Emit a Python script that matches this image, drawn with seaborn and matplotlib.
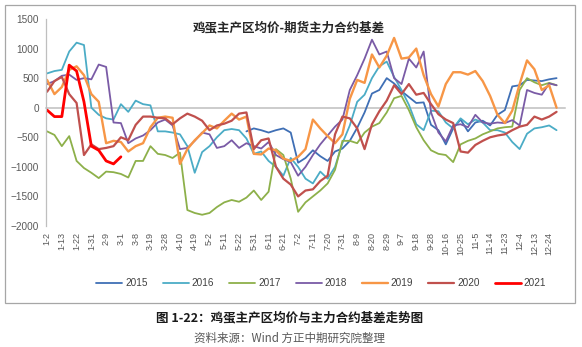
import numpy as np
import pandas as pd
import matplotlib
matplotlib.use("Agg")
import matplotlib.pyplot as plt
import seaborn as sns
from matplotlib.patches import Rectangle

nan = np.nan

# Category axis: trading days, a label every 7 days, values sampled every 3.5 days
tick_labels = ["1-2", "1-13", "1-22", "1-31", "2-9", "3-1", "3-8", "3-19", "3-28",
               "4-10", "4-19", "5-2", "5-11", "5-22", "5-31", "6-11", "6-21", "7-2",
               "7-11", "7-20", "7-31", "8-9", "8-20", "8-29", "9-7", "9-18", "9-28",
               "10-16", "10-25", "11-5", "11-14", "11-23", "12-4", "12-13", "12-24"]

years = ["2015", "2016", "2017", "2018", "2019", "2020", "2021"]

basis_2015 = [nan] * 27 + [
    -400, -350, -380, -420, -380, -350, -420, -930, -850, -720,
    -820, -900, -740, -690, -560, -340, -80, 240, 300, 500,
    410, 280, 180, 80, 90, -290, -380, -620, -350, -200,
    -400, -250, -220, -300, -120, -40, 360, 380, 470, 460,
    450, 480, 500]

basis_2016 = [
    580, 620, 640, 950, 1100, 1060, 0, -120, -180, -200,
    60, -70, 120, 60, 40, -400, -400, -420, -450, -650,
    -1100, -750, -650, -500, -380, -360, -380, -520, -780, -740,
    -900, -1000, -1150, -850, -1000, -1200, -1280, -1080, -1200, -1000,
    -600, -300, 100, 220, 500, 700, 780, 520, 300, 50,
    -280, -380, -50, -60, -250, -350, -180, -280, -200, -250,
    -380, -380, -420, -580, -700, -440, -350, -330, -300, -380]

basis_2017 = [
    -400, -460, -650, -480, -900, -1020, -1100, -1190, -1080, -1090,
    -1120, -1180, -900, -900, -650, -780, -800, -850, -760, -1730,
    -1780, -1810, -1780, -1680, -1600, -1560, -1590, -1520, -1400, -1560,
    -1420, -700, -800, -1200, -1760, -1600, -1500, -1400, -1280, -1050,
    -560, -560, -600, -420, -320, -260, -80, 160, 200, -40,
    -330, -550, -720, -780, -800, -920, -620, -560, -520, -450,
    -400, -350, -330, -320, 300, 500, 430, 380, 420, 380]

basis_2018 = [
    400, 450, 540, 560, 470, 500, 480, 730, 690, -250,
    -260, -600, -520, -470, -380, -250, -200, -300, -700, -680,
    -560, -420, -450, -680, -650, -550, -680, -600, -650, -690,
    -580, -800, -870, -920, -1150, -1000, -800, -620, -470, -320,
    -200, 300, 550, 830, 1150, 900, 950, 500, 400, 830,
    680, 950, -80, -420, -570, -300, -280, -330, -120, -250,
    -270, -250, -260, -210, -300, 300, 250, 220, 410, 380]

basis_2019 = [
    470, 230, 350, 640, 700, 550, 230, 100, -600, -560,
    -580, -740, -650, -600, -330, -170, -150, -170, -950, -700,
    -550, -430, -300, -350, -220, -100, -200, -150, -780, -790,
    -690, -720, -860, -900, -830, -700, -200, -350, -480, -600,
    -450, 150, 470, 420, 900, 680, 880, 1180, 830, 850,
    1000, 550, 230, 20, 400, 600, 600, 560, 620, 450,
    200, -120, -260, -50, 400, 800, 650, 300, 380, 0]

basis_2020 = [
    270, 450, 520, 230, 80, -800, -620, -700, -680, -650,
    -500, -550, -290, -150, -150, -170, -180, -280, -180, -100,
    -150, -220, -380, -300, -270, -220, -100, -80, -700, -550,
    -520, -1000, -1200, -1300, -1500, -1400, -1380, -1240, -1150, -450,
    -150, -180, -350, -700, -280, -60, 120, 380, 230, 400,
    220, 250, 60, -110, -200, -260, -740, -760, -630, -560,
    -500, -470, -450, -380, -320, -290, -150, -200, -150, -70]

basis_2021 = [-40, -150, -150, 720, 620, 100, -650, -720, -900, -950, -830] + [nan] * 59

series = [basis_2015, basis_2016, basis_2017, basis_2018, basis_2019, basis_2020, basis_2021]
colors = ["#3F6FB5", "#4BACC6", "#8DB04A", "#7A5BA6", "#F79646", "#C0504D", "#FF0000"]
widths = [1.3, 1.3, 1.3, 1.3, 1.7, 1.6, 2.0]

day = np.arange(70) * 3.5
frames = [pd.DataFrame({"day": day, "basis": np.array(v, dtype=float), "year": y})
          for y, v in zip(years, series)]
df = pd.concat(frames, ignore_index=True)

sns.set_theme(style="white")
plt.rcParams["font.family"] = ["Liberation Sans", "Noto Sans CJK SC", "DejaVu Sans"]
cjk = ["Noto Sans CJK SC", "DejaVu Sans"]

fig = plt.figure(figsize=(5.82, 3.47), dpi=100)
fig.patch.set_facecolor("white")
ax = fig.add_axes([46 / 582, 1 - 226 / 347, (565 - 46) / 582, (226 - 19) / 347])

for y, c, w in zip(years, colors, widths):
    sub = df[df["year"] == y].dropna()
    sns.lineplot(data=sub, x="day", y="basis", color=c, linewidth=w, label=y,
                 estimator=None, errorbar=None, sort=False, ax=ax)

ax.set_xlim(-0.5, 245.5)
ax.set_ylim(-2000, 1500)
ax.set_xlabel("")
ax.set_ylabel("")

# category axis drawn through zero, one tick per trading day
ax.spines["bottom"].set_position(("data", 0))
ax.spines["bottom"].set_color("#BFBFBF")
ax.spines["bottom"].set_linewidth(1.1)
ax.spines["bottom"].set_zorder(0.5)
ax.xaxis.set_zorder(0.5)
ax.set_xticks(np.arange(0, 246, 1))
ax.tick_params(axis="x", which="major", length=5, width=0.7, direction="inout",
               color="#C4C4C4", labelbottom=False)
ax.spines["top"].set_visible(False)
ax.spines["right"].set_visible(False)
ax.spines["left"].set_color("#BFBFBF")
ax.spines["left"].set_linewidth(0.9)

ax.set_yticks(np.arange(-2000, 1501, 500))
ax.tick_params(axis="y", length=3, width=0.8, direction="out", color="#BFBFBF",
               labelsize=7.2, labelcolor="#595959", pad=2)

# date labels along the bottom edge
sec = ax.secondary_xaxis(0.0)
sec.set_xticks(np.arange(0, 7 * len(tick_labels), 7), labels=tick_labels)
sec.tick_params(axis="x", length=0, labelsize=6.5, labelcolor="#595959",
                pad=4, labelrotation=90)
sec.spines["bottom"].set_visible(False)

ax.text(0.467, 0.955, "鸡蛋主产区均价-期货主力合约基差", transform=ax.transAxes,
        ha="center", va="center", fontsize=9, fontweight="bold",
        color="#262626", family=cjk)

leg = ax.legend(loc="center", bbox_to_anchor=(0.552, 0.184),
                bbox_transform=fig.transFigure, ncol=7, frameon=False,
                fontsize=7.2, handlelength=2.6, columnspacing=1.5,
                handletextpad=0.3)
for t in leg.get_texts():
    t.set_color("#404040")

fig.patches.append(Rectangle((5 / 582, 1 - 303 / 347), 570 / 582, 298 / 347,
                             transform=fig.transFigure, fill=False,
                             edgecolor="#A6A6A6", linewidth=0.9))

fig.text(0.498, 1 - 318 / 347, "图 1-22：鸡蛋主产区均价与主力合约基差走势图",
         ha="center", va="center", fontsize=9, fontweight="bold",
         color="#1A1A1A", family=cjk)
fig.text(0.498, 1 - 338 / 347, "资料来源：Wind 方正中期研究院整理",
         ha="center", va="center", fontsize=8.3, color="#595959", family=cjk)

fig.savefig("out.png", dpi=100, facecolor="white")
